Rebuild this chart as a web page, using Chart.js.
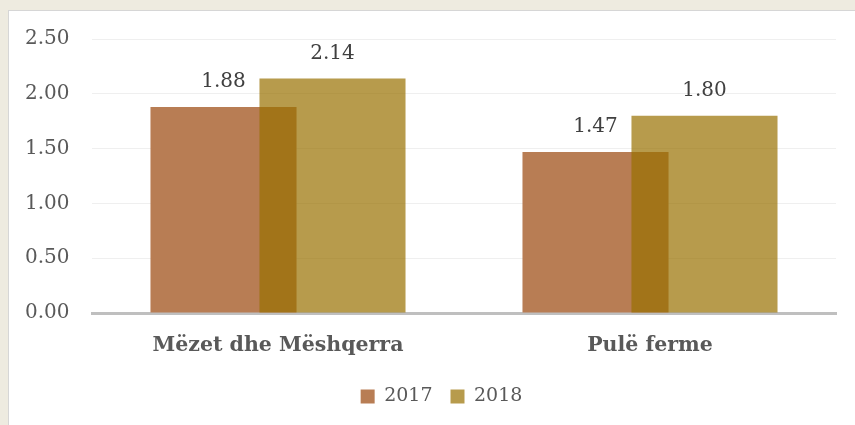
<!DOCTYPE html>
<html>
<head>
<meta charset="utf-8">
<script src="https://cdn.jsdelivr.net/npm/chart.js"></script>
<style>
  body { margin: 0; background: #eeebe0; width: 855px; height: 425px; overflow: hidden; }
  .card { position: absolute; left: 8px; top: 10px; width: 847px; height: 415px;
          background: #fff; border-top: 1px solid #d6d6d6; border-left: 1px solid #d6d6d6; box-sizing: border-box; }
  canvas { display: block; }
</style>
</head>
<body>
<div class="card"><canvas id="chart" width="846" height="414"></canvas></div>
<script>
// kategori dan nilai dari grafik
const categories = ['Mëzet dhe Mëshqerra', 'Pulë ferme'];
const years = ['2017', '2018'];
const values2017 = [1.88, 1.47];
const values2018 = [2.14, 1.80];
const yTicks = [0, 0.5, 1, 1.5, 2, 2.5];

const fontFamily = "'DejaVu Serif', serif";

// batang 2018 digambar setelah 2017 supaya tumpang tindihnya terlihat
const drawOrder = {
  id: 'drawOrder',
  beforeDatasetDraw(chart, args) {
    if (args.index === 1) return false;
  },
  afterDatasetsDraw(chart) {
    const ctx = chart.ctx;
    chart.getDatasetMeta(1).data.forEach(el => el.draw(ctx));
  }
};

// geser legenda sedikit ke kanan
const legendShift = {
  id: 'legendShift',
  afterLayout(chart) {
    chart.legend.left += 11;
    chart.legend.right += 11;
  }
};

// tulis nilai di atas batang
const valueLabels = {
  id: 'valueLabels',
  afterDatasetsDraw(chart) {
    const ctx = chart.ctx;
    ctx.save();
    ctx.font = '20px ' + fontFamily;
    ctx.fillStyle = '#404040';
    ctx.textAlign = 'center';
    ctx.textBaseline = 'bottom';
    chart.data.datasets.forEach((ds, i) => {
      chart.getDatasetMeta(i).data.forEach((bar, j) => {
        ctx.fillText(ds.data[j].toFixed(2), bar.x, bar.y - 15);
      });
    });
    ctx.restore();
  }
};

new Chart(document.getElementById('chart'), {
  type: 'bar',
  data: {
    labels: categories,
    datasets: [
      { label: years[0], data: values2017, backgroundColor: '#b87d54' },
      { label: years[1], data: values2018, backgroundColor: 'rgba(152,112,0,0.7)' }
    ]
  },
  options: {
    responsive: false,
    animation: false,
    categoryPercentage: 0.586,
    barPercentage: 1.34,
    layout: { padding: { top: 28, right: 19, bottom: 9, left: 16 } },
    plugins: {
      tooltip: { enabled: false },
      legend: {
        position: 'bottom',
        labels: {
          boxWidth: 14, boxHeight: 14, padding: 18,
          color: '#595959',
          font: { family: fontFamily, size: 19 }
        }
      }
    },
    scales: {
      x: {
        grid: { display: false, drawTicks: false },
        border: { color: '#bfbfbf', width: 3 },
        ticks: { color: '#595959', padding: 20, font: { family: fontFamily, size: 20.5, weight: 'bold' } },
        afterFit: s => { s.height = 56; }
      },
      y: {
        min: 0, max: 2.5,
        afterBuildTicks: s => { s.ticks = yTicks.map(v => ({ value: v })); },
        grid: { color: '#efefef', drawTicks: false },
        border: { display: false },
        ticks: { color: '#595959', padding: 0, crossAlign: 'far', font: { family: fontFamily, size: 20 },
                 callback: v => Number(v).toFixed(2) },
        afterFit: s => { s.width = 67; }
      }
    }
  },
  plugins: [drawOrder, legendShift, valueLabels]
});
</script>
</body>
</html>
